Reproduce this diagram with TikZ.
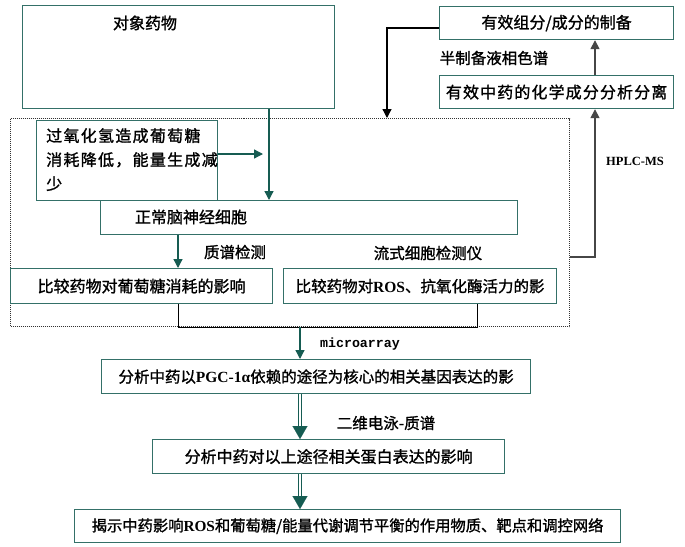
\documentclass[tikz,border=0pt]{standalone}
\usepackage{fontspec}
\setmainfont{Noto Sans CJK SC}[FakeBold=1.2]
\newfontfamily\latfont{Liberation Serif}
\newfontfamily\mymono{Liberation Mono}
\newcommand\lat[1]{{\latfont\bfseries #1}}
\usetikzlibrary{arrows.meta,calc}
\definecolor{boxcol}{RGB}{52,112,104}
\definecolor{arrcol}{RGB}{22,92,82}
\definecolor{grayln}{RGB}{70,70,70}
\tikzset{
  box/.style={draw=boxcol, line width=1.2pt, inner sep=0pt, anchor=north west, fill=white},
  txt/.style={inner sep=0pt, font=\fontsize{16}{19}\selectfont},
  lbl/.style={inner sep=0pt, font=\fontsize{15.5}{18}\selectfont},
  arr/.style={draw=arrcol, line width=1.3pt, -{Triangle[length=9pt,width=9pt]}},
  blkarr/.style={draw=black, line width=1.3pt, -{Triangle[length=9pt,width=9pt]}},
  grayarr/.style={draw=grayln, line width=1.6pt, -{Triangle[length=9pt,width=9pt]}},
  plain/.style={draw=black, line width=1pt},
  dbl/.style={draw=arrcol, line width=1.2pt, double=white, double distance=2.2pt},
  bigtip/.style={draw=arrcol, line width=0.1pt, -{Triangle[length=13pt,width=15pt]}},
  frame/.style={draw=black!80, line width=1pt, dash pattern=on 1pt off 1pt, inner sep=0pt, anchor=north west}
}
\begin{document}
\begin{tikzpicture}[x=1pt,y=-1pt]
\useasboundingbox (0,0) rectangle (685,546);
\fill[white] (0,0) rectangle (685,546);

% dotted frame
\node[frame, minimum width=559pt, minimum height=208pt] (frame) at (10,118) {};

% boxes
\node[box, minimum width=312pt, minimum height=103pt] (drug) at (22,5) {};
\node[txt] (drugtxt) at (145,23) {对象药物};

\node[box, minimum width=181pt, minimum height=80pt] (h2o2) at (36,120) {};
\node[txt, anchor=north west, align=left, font=\fontsize{16}{24}\selectfont\addfontfeature{LetterSpace=8}] (h2o2txt) at (46,128) {过氧化氢造成葡萄糖\\消耗降低，能量生成减\\少};

\node[box, minimum width=417pt, minimum height=34pt] (cell) at (100,200) {};
\node[txt] (celltxt) at (191,217) {正常脑神经细胞};

\node[box, minimum width=262pt, minimum height=35pt, txt] (glu) at (10,268) {比较药物对葡萄糖消耗的影响};
\node[box, minimum width=273pt, minimum height=35pt, txt, font=\fontsize{15.5}{18}\selectfont] (ros) at (283,268) {比较药物对\lat{ROS}、抗氧化酶活力的影};

\node[box, minimum width=234pt, minimum height=33pt, txt] (prep) at (439,6) {有效组分/成分的制备};
\node[box, minimum width=234pt, minimum height=33pt, txt, font=\fontsize{16}{19}\selectfont\addfontfeature{LetterSpace=7}] (chem) at (439,75) {有效中药的化学成分分析分离};

\node[box, minimum width=429pt, minimum height=34pt, txt, font=\fontsize{15.5}{18}\selectfont] (pgc) at (101,359) {分析中药以\lat{PGC-1α}依赖的途径为核心的相关基因表达的影};
\node[box, minimum width=352pt, minimum height=34pt, txt] (prot) at (152,439) {分析中药对以上途径相关蛋白表达的影响};
\node[box, minimum width=546pt, minimum height=33pt, txt, font=\fontsize{15.3}{18}\selectfont] (final) at (74,509) {揭示中药影响\lat{ROS}和葡萄糖/能量代谢调节平衡的作用物质、靶点和调控网络};

% labels
\node[lbl] (l1) at (494,58) {半制备液相色谱};
\node[inner sep=0pt, font=\latfont\bfseries\fontsize{12.5}{15}\selectfont] (l2) at (635,161) {HPLC-MS};
\node[lbl] (l3) at (235,252) {质谱检测};
\node[lbl] (l4) at (428,253) {流式细胞检测仪};
\node[inner sep=0pt, font=\mymono\bfseries\fontsize{13.3}{16}\selectfont] (l5) at (360,344) {microarray};
\node[lbl] (l6) at (386,423) {二维电泳-质谱};

% helper coordinates
\coordinate (c269) at (269,0);
\coordinate (c178) at (178,0);
\coordinate (c477) at (477,0);
\coordinate (c300) at (300,0);
\coordinate (h2tip) at (263,154);
\coordinate (hp) at (595,257);
\coordinate (pl) at (387,28);

% connectors
\draw[arr] (drug.south -| c269) -- (cell.north -| c269);
\draw[arr] (h2o2.east |- h2tip) -- (h2tip);
\draw[arr] (cell.south -| c178) -- (glu.north -| c178);
\draw[plain] (glu.south -| c178) -- (c178 |- frame.south) -- (c477 |- frame.south) -- (ros.south -| c477);
\draw[arr] (frame.south -| c300) -- (pgc.north -| c300);

\draw[dbl] (pgc.south -| c300) -- ($(prot.north -| c300)+(0,-11)$);
\draw[bigtip] ($(prot.north -| c300)+(0,-13)$) -- (prot.north -| c300);
\draw[dbl] (prot.south -| c300) -- ($(final.north -| c300)+(0,-11)$);
\draw[bigtip] ($(final.north -| c300)+(0,-13)$) -- (final.north -| c300);

\draw[grayarr] (frame.east |- hp) -- (hp) -- (chem.south -| hp);
\draw[grayarr] (chem.north -| hp) -- (prep.south -| hp);
\draw[blkarr] (prep.west |- pl) -- (pl) -- (frame.north -| pl);
\end{tikzpicture}
\end{document}
